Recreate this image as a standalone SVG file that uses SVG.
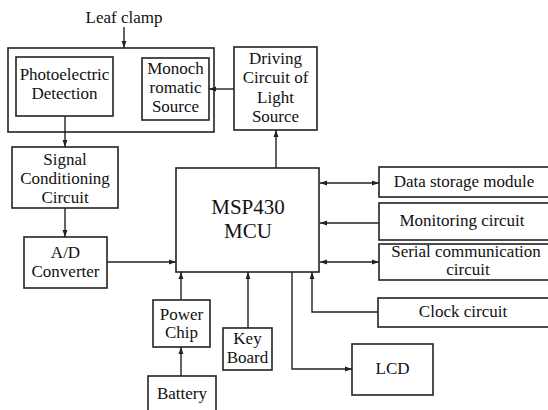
<svg xmlns="http://www.w3.org/2000/svg" width="548" height="410" viewBox="0 0 548 410">
<defs>
<style>
.b{fill:#fff;stroke:#222;stroke-width:1.6}
.t{font-size:17px;fill:#111;text-anchor:middle}
.big{font-size:21px}
.c{fill:none;stroke:#222;stroke-width:1.4}
</style>
<marker id="a" viewBox="0 0 10 10" refX="10" refY="5" markerWidth="7" markerHeight="7" orient="auto-start-reverse" markerUnits="userSpaceOnUse">
<path d="M0,1.5 L10,5 L0,8.5 Z" fill="#222"/>
</marker>
</defs>
<rect width="548" height="410" fill="#fff"/>
<g font-family="Liberation Serif, Times New Roman, serif">
<g id="leafclamp">
<rect class="b" x="8" y="48" width="206" height="84"/>
<text class="t" x="124" y="23">Leaf clamp</text>
</g>
<g id="photo">
<rect class="b" x="16" y="57" width="97" height="59"/>
<text class="t" x="64.5" y="80">Photoelectric</text>
<text class="t" x="64.5" y="99">Detection</text>
</g>
<g id="mono">
<rect class="b" x="142" y="58" width="67" height="62"/>
<text class="t" x="175.5" y="74">Monoch</text>
<text class="t" x="175.5" y="93">romatic</text>
<text class="t" x="175.5" y="112">Source</text>
</g>
<g id="driving">
<rect class="b" x="234" y="47" width="83" height="83"/>
<text class="t" x="275.5" y="64">Driving</text>
<text class="t" x="275.5" y="83">Circuit of</text>
<text class="t" x="275.5" y="103">Light</text>
<text class="t" x="275.5" y="122">Source</text>
</g>
<g id="signal">
<rect class="b" x="12" y="147" width="106" height="61"/>
<text class="t" x="65" y="165">Signal</text>
<text class="t" x="65" y="184">Conditioning</text>
<text class="t" x="65" y="203">Circuit</text>
</g>
<g id="ad">
<rect class="b" x="24" y="237" width="83" height="51"/>
<text class="t" x="65.5" y="258">A/D</text>
<text class="t" x="65.5" y="277">Converter</text>
</g>
<g id="mcu">
<rect class="b" x="176" y="168" width="143" height="104"/>
<text class="t big" x="248" y="214">MSP430</text>
<text class="t big" x="248" y="238">MCU</text>
</g>
<g id="datastorage">
<rect class="b" x="379" y="167" width="180" height="30"/>
<text class="t" x="464" y="187">Data storage module</text>
</g>
<g id="monitoring">
<rect class="b" x="379" y="203" width="180" height="37"/>
<text class="t" x="462" y="226">Monitoring circuit</text>
</g>
<g id="serial">
<rect class="b" x="379" y="244" width="180" height="36"/>
<text class="t" x="466" y="257">Serial communication</text>
<text class="t" x="468" y="275">circuit</text>
</g>
<g id="clock">
<rect class="b" x="378" y="298" width="181" height="29"/>
<text class="t" x="463" y="317">Clock circuit</text>
</g>
<g id="lcd">
<rect class="b" x="352" y="344" width="81" height="51"/>
<text class="t" x="392.5" y="374">LCD</text>
</g>
<g id="power">
<rect class="b" x="153" y="300" width="57" height="47"/>
<text class="t" x="181.5" y="320">Power</text>
<text class="t" x="181.5" y="338">Chip</text>
</g>
<g id="keyboard">
<rect class="b" x="223" y="328" width="49" height="42"/>
<text class="t" x="247.5" y="344">Key</text>
<text class="t" x="247.5" y="363">Board</text>
</g>
<g id="battery">
<rect class="b" x="148" y="376" width="68" height="44"/>
<text class="t" x="182" y="399">Battery</text>
</g>
</g>
<g id="connectors">
<path class="c" d="M124,27 V48" marker-end="url(#a)"/>
<path class="c" d="M234,89 H209" marker-end="url(#a)"/>
<path class="c" d="M65,116 V147" marker-end="url(#a)"/>
<path class="c" d="M65,208 V237" marker-end="url(#a)"/>
<path class="c" d="M107,262 H176" marker-end="url(#a)"/>
<path class="c" d="M276,168 V130" marker-end="url(#a)"/>
<path class="c" d="M320,183 H379" marker-start="url(#a)" marker-end="url(#a)"/>
<path class="c" d="M379,223 H320" marker-end="url(#a)"/>
<path class="c" d="M320,262 H379" marker-start="url(#a)" marker-end="url(#a)"/>
<path class="c" d="M378,312 H312 V272" marker-end="url(#a)"/>
<path class="c" d="M292,272 V369 H352" marker-end="url(#a)"/>
<path class="c" d="M181,300 V272" marker-end="url(#a)"/>
<path class="c" d="M248,328 V272" marker-end="url(#a)"/>
<path class="c" d="M181,376 V347" marker-end="url(#a)"/>
</g>
</svg>
